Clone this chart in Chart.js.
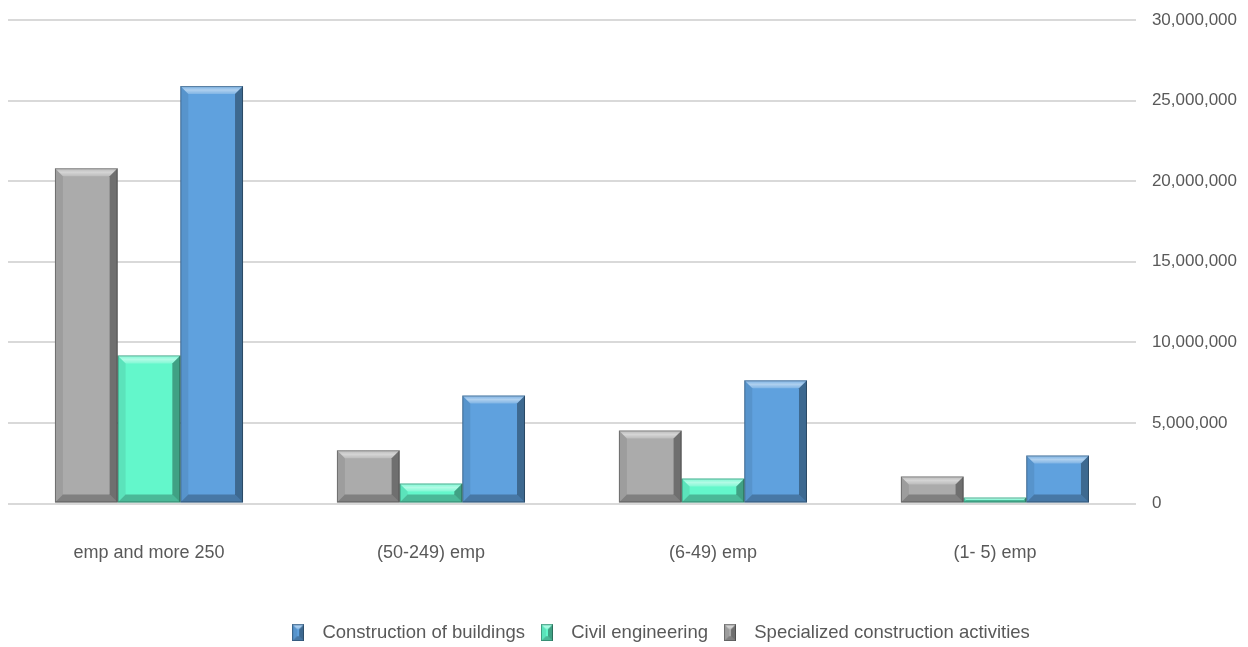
<!DOCTYPE html>
<html>
<head>
<meta charset="utf-8">
<script src="https://cdn.jsdelivr.net/npm/chart.js@4/dist/chart.umd.min.js"></script>
<style>
  html, body { margin: 0; padding: 0; background: #fff; }
  #wrap { width: 1248px; height: 647px; }
</style>
</head>
<body>
<div id="wrap"><canvas id="myChart"></canvas></div>
<script>
// x-axis categories
const sizes = ["emp and more 250", "(50-249) emp", "(6-49) emp", "(1- 5) emp"];
// data points
const specialized = [20800000, 3300000, 4530000, 1680000];
const civil = [9190000, 1240000, 1550000, 370000];
const buildings = [25900000, 6700000, 7640000, 2980000];
// y-axis ticks
const yTicks = [0, 5000000, 10000000, 15000000, 20000000, 25000000, 30000000];

const FONT = "'Liberation Sans', Arial, sans-serif";
const GREY_TEXT = "#595959";

// draw a bevelled box, Excel style
function bevel(ctx, l, t, r, bo, size) {
    const b = Math.min(size, (bo - t) / 2, (r - l) / 2);
    const quad = (pts, fill) => {
        ctx.beginPath();
        ctx.moveTo(pts[0][0], pts[0][1]);
        for (let i = 1; i < pts.length; i++) ctx.lineTo(pts[i][0], pts[i][1]);
        ctx.closePath();
        ctx.fillStyle = fill;
        ctx.fill();
    };
    const topFill = ctx.createLinearGradient(0, t, 0, t + b);
    topFill.addColorStop(0, "rgba(255,255,255,0.15)");
    topFill.addColorStop(0.5, "rgba(255,255,255,0.5)");
    topFill.addColorStop(1, "rgba(255,255,255,0.2)");
    quad([[l, t], [r, t], [r - b, t + b], [l + b, t + b]], topFill);
    quad([[l, t], [l + b, t + b], [l + b, bo - b], [l, bo]], "rgba(0,0,0,0.08)");
    quad([[r, t], [r, bo], [r - b, bo - b], [r - b, t + b]], "rgba(0,0,0,0.35)");
    quad([[l, bo], [r, bo], [r - b, bo - b], [l + b, bo - b]], "rgba(0,0,0,0.25)");
    ctx.strokeStyle = "rgba(0,0,0,0.3)";
    ctx.lineWidth = 1;
    ctx.strokeRect(l + 0.5, t + 0.5, r - l - 1, bo - t - 1);
}

function legendBox(color) {
    const c = document.createElement("canvas");
    c.width = 12;
    c.height = 17;
    const g = c.getContext("2d");
    g.fillStyle = color;
    g.fillRect(0, 0, 12, 17);
    bevel(g, 0, 0, 12, 17, 5);
    return c;
}

const bevelPlugin = {
    id: "bevel",
    afterLayout(chart) {
        // legend sits a bit right of centre in the original
        chart.legend.left += 34;
        chart.legend.right += 34;
    },
    afterDatasetsDraw(chart) {
        const ctx = chart.ctx;
        ctx.save();
        chart.data.datasets.forEach((ds, i) => {
            chart.getDatasetMeta(i).data.forEach(bar => {
                const l = bar.x - bar.width / 2;
                const r = bar.x + bar.width / 2;
                bevel(ctx, l, Math.min(bar.y, bar.base), r, Math.max(bar.y, bar.base), 8);
            });
        });
        ctx.restore();
    }
};

const colors = ["#ababab", "#63f7cb", "#5fa1de"];

const ctx = document.getElementById("myChart");
const myChart = new Chart(ctx, {
    type: "bar",
    data: {
        labels: sizes,
        datasets: [
            { label: "Specialized construction activities", data: specialized, backgroundColor: colors[0] },
            { label: "Civil engineering", data: civil, backgroundColor: colors[1] },
            { label: "Construction of buildings", data: buildings, backgroundColor: colors[2] }
        ]
    },
    options: {
        responsive: true,
        maintainAspectRatio: false,
        animation: false,
        layout: { padding: { left: 8, right: 11, top: 0, bottom: -5 } },
        datasets: {
            bar: { barPercentage: 1, categoryPercentage: 0.667 }
        },
        scales: {
            x: {
                grid: { display: false },
                border: { display: false },
                ticks: { color: GREY_TEXT, font: { family: FONT, size: 18 }, padding: 31 },
                afterFit: axis => { axis.height = 113; }
            },
            y: {
                position: "right",
                min: 0,
                max: 30000000,
                afterBuildTicks: axis => { axis.ticks = yTicks.map(v => ({ value: v })); },
                afterFit: axis => {
                    axis.width -= 16;
                    axis.paddingTop = 20;
                },
                grid: { color: "#d9d9d9", lineWidth: 2, drawTicks: false },
                border: { display: false },
                ticks: {
                    color: GREY_TEXT,
                    font: { family: FONT, size: 17 },
                    padding: 16,
                    callback: v => v.toLocaleString("en-US")
                }
            }
        },
        plugins: {
            tooltip: { enabled: false },
            legend: {
                position: "bottom",
                reverse: true,
                labels: {
                    color: GREY_TEXT,
                    font: { family: FONT, size: 18.5 },
                    usePointStyle: true,
                    pointStyleWidth: 30,
                    padding: 7,
                    generateLabels(chart) {
                        return chart.data.datasets.map((ds, i) => ({
                            text: ds.label,
                            fillStyle: ds.backgroundColor,
                            strokeStyle: ds.backgroundColor,
                            pointStyle: legendBox(ds.backgroundColor),
                            fontColor: GREY_TEXT,
                            lineWidth: 0,
                            hidden: false,
                            datasetIndex: i
                        }));
                    }
                }
            }
        }
    },
    plugins: [bevelPlugin]
});
</script>
</body>
</html>
